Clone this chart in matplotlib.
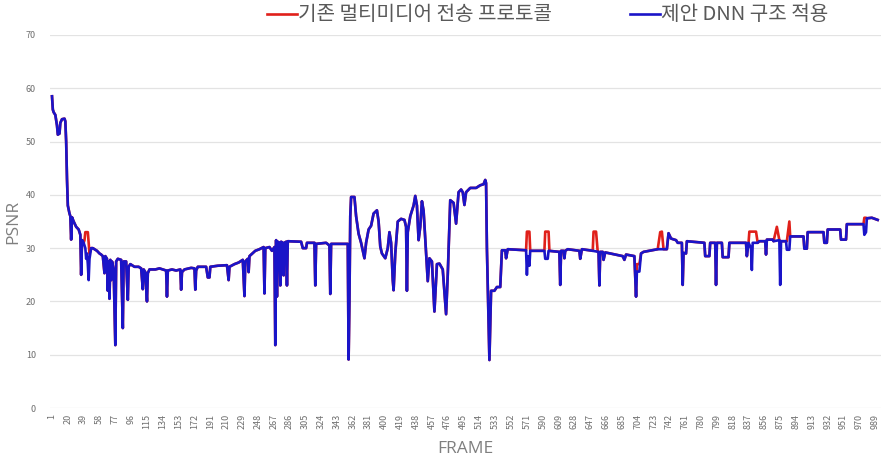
import matplotlib
matplotlib.use("Agg")
import matplotlib.pyplot as plt
from matplotlib.lines import Line2D

plt.rcParams['font.family'] = ['Noto Sans CJK KR', 'DejaVu Sans']

# keyframes (frame number, PSNR) - proposed DNN structure
frames = [1, 2, 3, 5, 6, 7, 8, 10, 11, 13, 16, 17, 18, 19, 20, 21, 22, 23, 24, 25,
          27, 30, 33, 35, 36, 37, 39, 41, 42, 43, 44, 45, 46, 48, 50, 55, 58, 60, 62, 64,
          65, 67, 68, 69, 70, 71, 72, 73, 75, 77, 78, 80, 84, 86, 87, 90, 92, 93, 95, 100,
          105, 108, 110, 111, 113, 115, 116, 118, 125, 130, 138, 139, 140, 145, 150, 155, 156, 157, 160, 168,
          172, 173, 174, 176, 186, 188, 190, 191, 200, 211, 213, 214, 220, 225, 230, 232, 233, 236, 237, 238,
          245, 250, 255, 256, 257, 262, 265, 268, 269, 270, 271, 272, 274, 275, 276, 278, 279, 280, 282, 283,
          284, 300, 302, 306, 307, 316, 317, 318, 330, 334, 335, 336, 356, 357, 358, 359, 360, 364, 366, 369,
          372, 376, 378, 381, 384, 387, 391, 393, 395, 397, 401, 404, 406, 408, 410, 411, 413, 416, 420, 424,
          426, 427, 428, 431, 435, 437, 439, 441, 443, 445, 447, 452, 454, 457, 460, 463, 466, 470, 474, 476,
          479, 483, 486, 489, 492, 494, 496, 498, 503, 510, 515, 519, 521, 522, 523, 526, 528, 532, 535, 539,
          541, 545, 546, 548, 570, 571, 572, 574, 575, 592, 593, 596, 597, 610, 611, 612, 615, 616, 617, 620,
          634, 635, 637, 650, 657, 658, 659, 662, 663, 665, 686, 688, 690, 700, 702, 703, 706, 708, 711, 728,
          739, 741, 744, 750, 752, 757, 758, 759, 762, 763, 784, 785, 790, 791, 797, 798, 799, 805, 806, 813,
          814, 834, 835, 837, 840, 841, 842, 848, 850, 857, 858, 859, 866, 867, 874, 875, 876, 882, 883, 886,
          887, 903, 904, 907, 908, 927, 928, 931, 932, 947, 948, 954, 955, 975, 976, 978, 979, 985, 992]

dnn_psnr = [58.5, 56, 55.5, 55, 54, 53, 51.3, 51.5, 53.5, 54.2, 54.3, 53.8, 50, 43, 38, 37.2, 36.5, 36, 31.6, 35.8,
            35, 34, 33.5, 32.5, 25, 31.5, 31, 30, 28, 29, 27, 24, 28, 30, 30, 29.5, 29, 28.8, 28.5, 25.3,
            28.5, 28, 22, 27.5, 20.5, 27.8, 24, 27.5, 26, 11.8, 27.5, 28, 27.8, 15, 27.5, 27.5, 20.3, 26.5, 27, 26.5,
            26.5, 26.2, 22.3, 26, 25.5, 20, 25.3, 26, 26, 26.2, 25.8, 20.9, 25.8, 26, 25.8, 26, 22.2, 25.5, 26, 26.3,
            26.2, 22.2, 25.8, 26.5, 26.5, 24.5, 24.5, 26.5, 26.7, 26.8, 24, 26.5, 27, 27.3, 27.8, 21, 27.5, 28, 25.5, 28.5,
            29.5, 29.8, 30.2, 21.5, 30, 30.2, 29.5, 30.2, 11.8, 31.5, 20.9, 31.2, 31, 23, 31.2, 31, 24.9, 31, 31.2, 23,
            31.3, 31.2, 30, 30, 31, 31, 23, 30.8, 31, 30.5, 21.4, 30.8, 30.8, 9.1, 20, 36, 39.6, 39.6, 36, 32.7,
            31, 28.1, 31, 33.5, 34.2, 36.5, 37.1, 35, 30.3, 29, 28.1, 30, 33, 31, 24, 22.1, 29, 35, 35.5, 35.3,
            34, 22, 33, 36, 38, 39.8, 38, 31.5, 34, 38.8, 37, 23.8, 28.1, 27.5, 18.1, 27, 27.1, 26, 17.6, 25,
            39, 38.5, 34.6, 40.5, 41, 40.5, 38.1, 40.5, 41.3, 41.3, 41.8, 42, 42.8, 42.2, 30, 9, 22, 22, 22.7, 22.7,
            29.6, 29.6, 28.1, 29.8, 29.6, 25, 28.5, 26.7, 29.5, 29.5, 28, 28, 29.5, 29.3, 23.1, 29.5, 29.5, 28.1, 29.5, 29.8,
            29.5, 28, 29.8, 29.5, 29.3, 23, 29.3, 29.3, 27.8, 29.2, 28.5, 27.8, 28.8, 28.5, 20.9, 25.6, 25.6, 29, 29.3, 29.8,
            29.8, 32.8, 31.8, 31.5, 31, 31, 23.1, 29.1, 29, 31.3, 31, 28.5, 28.5, 31, 31, 23.1, 31, 31, 28.3, 28.3,
            31, 31, 28.5, 31, 30, 25.9, 31, 31, 31.3, 31.3, 28.8, 31.6, 31.6, 31.3, 31.5, 23.1, 31.3, 31.3, 29.7, 29.7,
            32.2, 32.2, 29.9, 29.9, 33, 33, 31, 31, 33.5, 33.5, 31.6, 31.6, 34.5, 34.5, 32.5, 33, 35.6, 35.7, 35.3]

# frames where the existing protocol differs from the proposed one
legacy_frames = [40, 41, 42, 43, 44, 45, 46, 571, 572, 574, 593, 596, 597, 598, 651, 654, 656,
                 703, 706, 731, 733, 735, 838, 840, 841, 842, 846, 871, 875, 883, 886, 976, 978]
legacy_values = [31.5, 33, 33, 33, 33, 31, 29, 33.1, 33.1, 33.1, 33.1, 33.1, 33.1, 29.5, 33.1, 33.1, 29.3,
                 27, 27, 33, 33.1, 29.8, 33.1, 33.1, 33.1, 33.1, 33.1, 34, 31.3, 31.3, 35, 35.7, 35.7]

series_names = ['기존 멀티미디어 전송 프로토콜', '제안 DNN 구조 적용']
tick_frames = list(range(1, 990, 19))

assert len(frames) == len(dnn_psnr)
assert len(legacy_frames) == len(legacy_values)

legacy = dict(zip(frames, dnn_psnr))
legacy.update(dict(zip(legacy_frames, legacy_values)))
legacy_x = sorted(legacy)
legacy_y = [legacy[f] for f in legacy_x]

W, H = 884, 463
fig = plt.figure(figsize=(W / 100, H / 100), dpi=100)
ax = fig.add_axes([50 / W, 1 - 408 / H, 831 / W, 373 / H])

red = '#e0201a'
blue = '#1a14c8'
ax.plot(legacy_x, legacy_y, color=red, lw=1.9)
ax.plot(frames, dnn_psnr, color=blue, lw=1.9)

ax.set_xlim(-1.4, 996)
ax.set_ylim(0, 70)
ax.set_yticks(range(0, 71, 10))
ax.set_xticks(tick_frames)
ax.set_xticklabels([str(t) for t in tick_frames], rotation=90, fontsize=6.5, color='#6e6e6e')
ax.tick_params(axis='y', labelsize=6.5, labelcolor='#6e6e6e', length=0, pad=10)
ax.tick_params(axis='x', length=0, pad=4)
ax.grid(axis='y', color='#e3e3e3', lw=0.9)
ax.set_axisbelow(True)
for s in ax.spines.values():
    s.set_visible(False)

ax.set_xlabel('FRAME', family='Open Sans', fontsize=12.5, color='#7f7f7f', labelpad=9)
ax.set_ylabel('PSNR', family='Open Sans', fontsize=12.5, color='#7f7f7f', labelpad=3)

# legend drawn by hand so it sits where the original one does
for (x0, x1), color, name in zip([(267, 297), (630, 660)], [red, blue], series_names):
    fig.add_artist(Line2D([x0 / W, x1 / W], [1 - 13.5 / H] * 2, color=color, lw=1.9))
    fig.text((x1 + 1) / W, 1 - 14 / H, name, fontsize=14.5, color='#595959', va='center', ha='left')

fig.savefig('out.png', dpi=100)
